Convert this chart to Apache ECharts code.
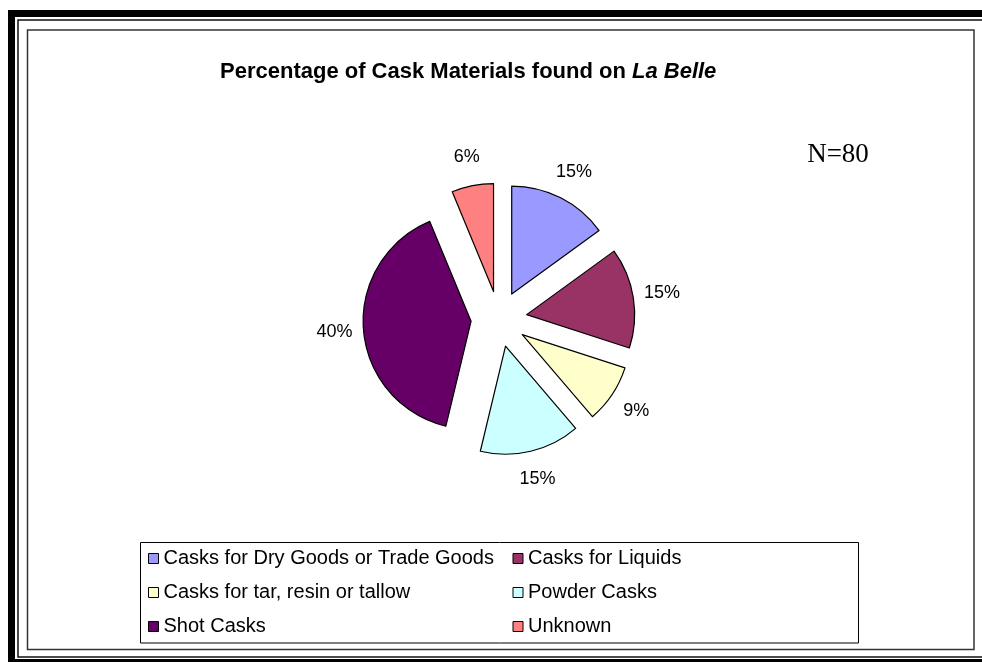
<!DOCTYPE html>
<html>
<head>
<meta charset="utf-8">
<script src="https://cdn.jsdelivr.net/npm/echarts@6/dist/echarts.min.js"></script>
<style>
html,body{margin:0;padding:0;background:#fff;}
#chart{width:982px;height:662px;}
</style>
</head>
<body>
<div id="chart"></div>
<script>
// Data (N = 80 casks)
var categories = ['Casks for Dry Goods or Trade Goods', 'Casks for Liquids', 'Casks for tar, resin or tallow', 'Powder Casks', 'Shot Casks', 'Unknown'];
var counts = [12, 12, 7, 12, 32, 5];
var colors = ['#9999FF', '#993366', '#FFFFCC', '#CCFFFF', '#660066', '#FF8080'];
var titleMain = 'Percentage of Cask Materials found on';
var titleItalic = 'La Belle';
var noteText = 'N=80';

var FONT = 'Arial, "Liberation Sans", sans-serif';

var pieData = categories.map(function (name, i) {
  return { name: name, value: counts[i], selected: true, itemStyle: { color: colors[i] } };
});
var labelData = categories.map(function (name, i) {
  return { name: name, value: counts[i], selected: true };
});

var chart = echarts.init(document.getElementById('chart'), null, { renderer: 'canvas' });
chart.setOption({
  backgroundColor: '#ffffff',
  animation: false,
  title: {
    text: '{b|' + titleMain + '} {bi|' + titleItalic + '}',
    left: 220,
    top: 61,
    padding: 0,
    textStyle: {
      fontFamily: FONT, fontSize: 22, fontWeight: 'bold', color: '#000',
      rich: {
        b: { fontFamily: FONT, fontSize: 22, fontWeight: 'bold', color: '#000' },
        bi: { fontFamily: FONT, fontSize: 22, fontWeight: 'bold', fontStyle: 'italic', color: '#000' }
      }
    }
  },
  legend: {
    data: categories,
    left: 148,
    top: 547,
    width: 720,
    orient: 'horizontal',
    icon: 'rect',
    itemWidth: 10,
    itemHeight: 10,
    itemGap: 11,
    padding: 0,
    selectedMode: false,
    itemStyle: { borderColor: '#000', borderWidth: 1 },
    textStyle: { fontFamily: FONT, fontSize: 20, color: '#000', width: 338, lineHeight: 23, padding: [0, 0, 0, 0] }
  },
  graphic: [
    { type: 'rect', shape: { x: 11.5, y: 13.5, width: 1000, height: 649 }, style: { fill: 'none', stroke: '#000', lineWidth: 7 }, silent: true, z: 10 },
    { type: 'rect', shape: { x: 18, y: 20, width: 1000, height: 637 }, style: { fill: 'none', stroke: '#111', lineWidth: 1.5 }, silent: true, z: 10 },
    { type: 'rect', shape: { x: 27.5, y: 30, width: 946.5, height: 619.5 }, style: { fill: 'none', stroke: '#333', lineWidth: 1.5 }, silent: true, z: 10 },
    { type: 'rect', shape: { x: 140.5, y: 542.5, width: 718, height: 100.5 }, style: { fill: 'none', stroke: '#000', lineWidth: 1 }, silent: true, z: 10 },
    { type: 'text', x: 838, y: 155, style: { text: noteText, font: '27px "Times New Roman", "Liberation Serif", serif', fill: '#000', align: 'center', verticalAlign: 'middle' }, silent: true, z: 10 }
  ],
  series: [
    {
      type: 'pie',
      center: [499, 319],
      radius: [0, 108],
      startAngle: 90,
      clockwise: true,
      selectedMode: 'multiple',
      selectedOffset: 28,
      avoidLabelOverlap: false,
      label: { show: false },
      labelLine: { show: false },
      itemStyle: { borderColor: '#000', borderWidth: 1.2 },
      select: { itemStyle: { borderColor: '#000', borderWidth: 1.2 } },
      emphasis: { disabled: true },
      data: pieData
    },
    {
      type: 'pie',
      center: [499, 319],
      radius: [124, 144],
      startAngle: 90,
      clockwise: true,
      selectedMode: 'multiple',
      selectedOffset: 28,
      silent: true,
      legendHoverLink: false,
      avoidLabelOverlap: false,
      itemStyle: { color: 'rgba(0,0,0,0)', borderWidth: 0 },
      select: { itemStyle: { color: 'rgba(0,0,0,0)', borderWidth: 0 } },
      emphasis: { disabled: true },
      labelLine: { show: false },
      label: {
        show: true,
        position: 'inside',
        rotate: 0,
        fontFamily: FONT,
        fontSize: 18,
        color: '#000',
        formatter: function (p) { return Math.round(p.percent) + '%'; }
      },
      data: labelData
    }
  ]
});
</script>
</body>
</html>
